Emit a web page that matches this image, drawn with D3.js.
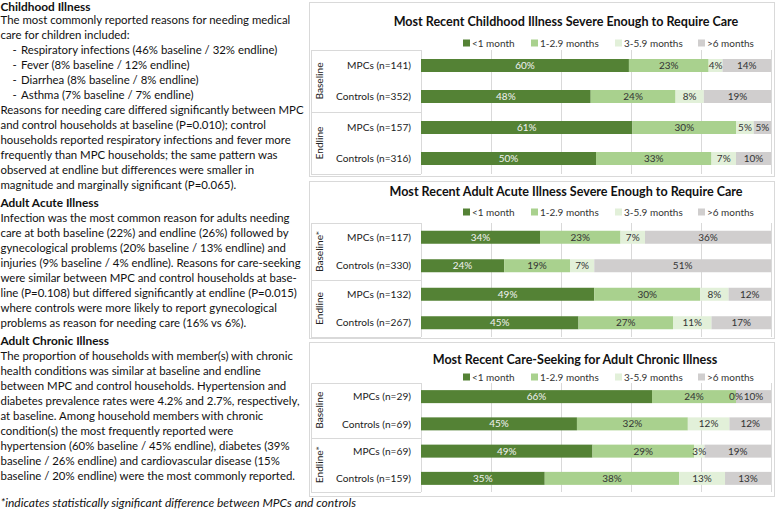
<!DOCTYPE html>
<html>
<head>
<meta charset="utf-8">
<script src="https://cdn.jsdelivr.net/npm/d3@7"></script>
<style>
  html, body { margin: 0; padding: 0; background: #fff; }
  svg { display: block; }
</style>
</head>
<body>
<svg id="chart" width="778" height="511"></svg>
<script>
// ---------------- DATA ----------------
const seriesNames = ["<1 month", "1-2.9 months", "3-5.9 months", ">6 months"];
const seriesColors = ["#548235", "#A9D18E", "#E2F0D9", "#D0CECE"];

const childTitle = "Most Recent Childhood Illness Severe Enough to Require Care";
const childGroups = ["Baseline", "Endline"];
const childCategories = ["MPCs (n=141)", "Controls (n=352)", "MPCs (n=157)", "Controls (n=316)"];
const childValues = [[60, 23, 4, 14], [48, 24, 8, 19], [61, 30, 5, 5], [50, 33, 7, 10]];

const acuteTitle = "Most Recent Adult Acute Illness Severe Enough to Require Care";
const acuteGroups = ["Baseline*", "Endline"];
const acuteCategories = ["MPCs (n=117)", "Controls (n=330)", "MPCs (n=132)", "Controls (n=267)"];
const acuteValues = [[34, 23, 7, 36], [24, 19, 7, 51], [49, 30, 8, 12], [45, 27, 11, 17]];

const chronicTitle = "Most Recent Care-Seeking for Adult Chronic Illness";
const chronicGroups = ["Baseline", "Endline*"];
const chronicCategories = ["MPCs (n=29)", "Controls (n=69)", "MPCs (n=69)", "Controls (n=159)"];
const chronicValues = [[66, 24, 0, 10], [45, 32, 12, 12], [49, 29, 3, 19], [35, 38, 13, 13]];

const textLines = [
  ["h", "Childhood Illness"],
  ["p", "The most commonly reported reasons for needing medical"],
  ["p", "care for children included:"],
  ["b", "Respiratory infections (46% baseline / 32% endline)"],
  ["b", "Fever (8% baseline / 12% endline)"],
  ["b", "Diarrhea (8% baseline / 8% endline)"],
  ["b", "Asthma (7% baseline / 7% endline)"],
  ["p", "Reasons for needing care differed significantly between MPC"],
  ["p", "and control households at baseline (P=0.010); control"],
  ["p", "households reported respiratory infections and fever more"],
  ["p", "frequently than MPC households; the same pattern was"],
  ["p", "observed at endline but differences were smaller in"],
  ["p", "magnitude and marginally significant (P=0.065)."],
  ["h", "Adult Acute Illness"],
  ["p", "Infection was the most common reason for adults needing"],
  ["p", "care at both baseline (22%) and endline (26%) followed by"],
  ["p", "gynecological problems (20% baseline / 13% endline) and"],
  ["p", "injuries (9% baseline / 4% endline). Reasons for care-seeking"],
  ["p", "were similar between MPC and control households at base-"],
  ["p", "line (P=0.108) but differed significantly at endline (P=0.015)"],
  ["p", "where controls were more likely to report gynecological"],
  ["p", "problems as reason for needing care (16% vs 6%)."],
  ["h", "Adult Chronic Illness"],
  ["p", "The proportion of households with member(s) with chronic"],
  ["p", "health conditions was similar at baseline and endline"],
  ["p", "between MPC and control households. Hypertension and"],
  ["p", "diabetes prevalence rates were 4.2% and 2.7%, respectively,"],
  ["p", "at baseline. Among household members with chronic"],
  ["p", "condition(s) the most frequently reported were"],
  ["p", "hypertension (60% baseline / 45% endline), diabetes (39%"],
  ["p", "baseline / 26% endline) and cardiovascular disease (15%"],
  ["p", "baseline / 20% endline) were the most commonly reported."]
];
const footnote = "*indicates statistically significant difference between MPCs and controls";

// ---------------- LAYOUT ----------------
const svg = d3.select("#chart");
const FONT = "Lato, 'Open Sans', sans-serif";

function fitSize(text, weight, style, target) {
  const t = svg.append("text").attr("font-family", FONT).attr("font-weight", weight)
    .attr("font-style", style).attr("font-size", 100).text(text);
  const w = t.node().getComputedTextLength();
  t.remove();
  return 100 * target / w;
}

const bodySize = fitSize("The most commonly reported reasons for needing medical", "normal", "normal", 290);
const headSize = fitSize("Childhood Illness", "bold", "normal", 90);
const footSize = fitSize(footnote, "normal", "italic", 356);

// Left text
const txt = svg.append("g").attr("fill", "#111").attr("font-family", FONT);
let yy = 6.5;
textLines.forEach(([type, s], i) => {
  if (i > 0) yy += (type === "h") ? 18 : 15;
  if (i === 1) yy -= 1.5;
  if (type === "h") {
    txt.append("text").attr("x", 0.5).attr("y", yy).attr("dy", "0.36em")
      .attr("font-size", headSize).attr("font-weight", "bold").text(s);
  } else if (type === "b") {
    txt.append("text").attr("x", 12.5).attr("y", yy).attr("dy", "0.36em")
      .attr("font-size", bodySize).text("-");
    txt.append("text").attr("x", 21).attr("y", yy).attr("dy", "0.36em")
      .attr("font-size", bodySize).text(s);
  } else {
    txt.append("text").attr("x", 0.5).attr("y", yy).attr("dy", "0.36em")
      .attr("font-size", bodySize).text(s);
  }
});
txt.append("text").attr("x", 0.5).attr("y", 503).attr("dy", "0.36em")
  .attr("font-size", footSize).attr("font-style", "italic").text(footnote);

// Chart panels
const x = d3.scaleLinear().domain([0, 1]).range([421, 771]);
const catSize = fitSize("Controls (n=352)", "normal", "normal", 75);
const legSize = fitSize(">6 months", "normal", "normal", 47);

const panels = [
  { title: childTitle, groups: childGroups, cats: childCategories, vals: childValues,
    box: [2, 176], titleY: 21, titleX: 566, legendY: 43, band: [50, 174] },
  { title: acuteTitle, groups: acuteGroups, cats: acuteCategories, vals: acuteValues,
    box: [181, 338], titleY: 191, titleX: 566, legendY: 212, band: [223, 337] },
  { title: chronicTitle, groups: chronicGroups, cats: chronicCategories, vals: chronicValues,
    box: [342, 496], titleY: 359, titleX: 575, legendY: 377, band: [383, 492] }
];
const titleSize = fitSize(childTitle, "bold", "normal", 345);
const legendX = [463, 531, 615, 698];

const stack = d3.stack().keys(d3.range(4)).value((d, k) => d[k]).offset(d3.stackOffsetExpand);

panels.forEach(p => {
  const g = svg.append("g").attr("font-family", FONT);
  // panel border
  g.append("rect").attr("x", 309.5).attr("y", p.box[0] + 0.5)
    .attr("width", 465).attr("height", p.box[1] - p.box[0])
    .attr("fill", "#fff").attr("stroke", "#D9D9D9");
  // title
  g.append("text").attr("x", p.titleX).attr("y", p.titleY).attr("dy", "0.36em")
    .attr("text-anchor", "middle").attr("font-weight", "bold").attr("font-size", titleSize)
    .attr("fill", "#111").text(p.title);
  // legend
  seriesNames.forEach((n, i) => {
    g.append("rect").attr("x", legendX[i]).attr("y", p.legendY - 3.5)
      .attr("width", 7).attr("height", 7).attr("fill", seriesColors[i]);
    g.append("text").attr("x", legendX[i] + 9).attr("y", p.legendY).attr("dy", "0.36em")
      .attr("font-size", legSize).attr("fill", "#333").text(n);
  });

  const y = d3.scaleBand().domain(d3.range(p.cats.length)).range(p.band);
  const barH = 13;

  // gridlines
  g.append("g").selectAll("line").data(x.ticks(5)).join("line")
    .attr("x1", d => Math.round(x(d)) + 0.5).attr("x2", d => Math.round(x(d)) + 0.5)
    .attr("y1", p.band[0]).attr("y2", p.band[1])
    .attr("stroke", "#D9D9D9");

  // category table
  const tb = g.append("g").attr("stroke", "#D9D9D9").attr("fill", "none");
  const mid = y(2);
  [p.band[0], mid, p.band[1]].forEach(v => {
    tb.append("line").attr("x1", 311).attr("x2", 421).attr("y1", Math.round(v) + 0.5).attr("y2", Math.round(v) + 0.5);
  });
  tb.append("line").attr("x1", 311.5).attr("x2", 311.5).attr("y1", p.band[0]).attr("y2", p.band[1]);

  // group labels
  p.groups.forEach((gl, gi) => {
    const cy = gi === 0 ? (p.band[0] + mid) / 2 : (mid + p.band[1]) / 2;
    g.append("text").attr("transform", `translate(319,${cy}) rotate(-90)`)
      .attr("text-anchor", "middle").attr("dy", "0.36em")
      .attr("font-size", catSize).attr("fill", "#222").text(gl);
  });

  // category labels
  g.append("g").selectAll("text").data(p.cats).join("text")
    .attr("x", 411).attr("y", (d, i) => y(i) + y.bandwidth() / 2).attr("dy", "0.36em")
    .attr("text-anchor", "end").attr("font-size", catSize).attr("fill", "#222").text(d => d);

  // bars
  const series = stack(p.vals);
  series.forEach((s, k) => {
    const sg = g.append("g");
    sg.selectAll("rect").data(s).join("rect")
      .attr("x", d => x(d[0])).attr("width", d => x(d[1]) - x(d[0]))
      .attr("y", (d, i) => y(i) + y.bandwidth() / 2 - barH / 2).attr("height", barH)
      .attr("fill", seriesColors[k]);
  });
  series.forEach((s, k) => {
    g.append("g").selectAll("text").data(s).join("text")
      .attr("x", d => (x(d[0]) + x(d[1])) / 2)
      .attr("y", (d, i) => y(i) + y.bandwidth() / 2).attr("dy", "0.36em")
      .attr("text-anchor", "middle").attr("font-size", legSize)
      .attr("fill", k === 0 ? "#F2F2F2" : "#333")
      .text((d, i) => p.vals[i][k] + "%");
  });
});
</script>
</body>
</html>
